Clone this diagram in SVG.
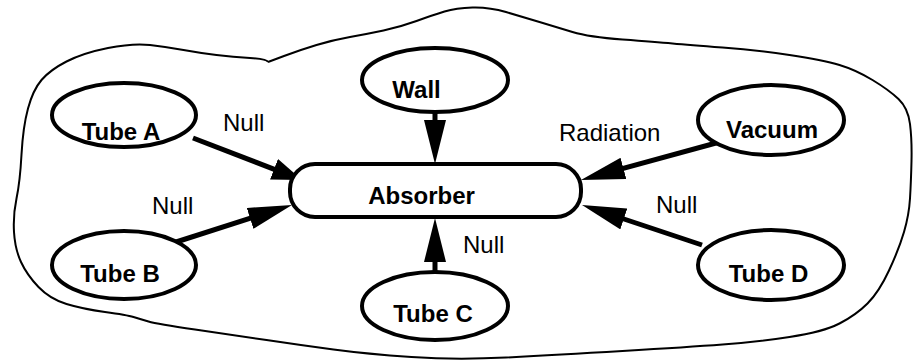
<svg xmlns="http://www.w3.org/2000/svg" width="913" height="363" viewBox="0 0 913 363">
<style>
.bg{fill:#fff}
.blob{fill:none;stroke:#000;stroke-width:2}
.node{fill:#fff;stroke:#000;stroke-width:4}
.nt{font-family:"Liberation Sans",Arial,sans-serif;font-size:24px;font-weight:bold;fill:#000;text-anchor:middle}
.lbl{font-family:"Liberation Sans",Arial,sans-serif;font-size:24px;fill:#000}
.edge{fill:none;stroke:#000;stroke-width:5}
</style>
<defs>
<marker id="ahL" viewBox="0 0 44 22" refX="22" refY="11" markerWidth="44" markerHeight="22" markerUnits="userSpaceOnUse" orient="auto"><path d="M0,0 L44,11 L0,22 z" fill="#000"/></marker>
<marker id="ahS" viewBox="0 0 30 22" refX="15" refY="11" markerWidth="30" markerHeight="22" markerUnits="userSpaceOnUse" orient="auto"><path d="M0,0 L30,11 L0,22 z" fill="#000"/></marker>
</defs>
<rect class="bg" x="0" y="0" width="913" height="363"/>
<path id="boundary" class="blob" d="M268,62 L284,56 Q300,50 316.5,45 Q333,40 350,37 Q367,34 383.5,30.5 Q400,27 416.5,21 Q433,15 444.5,11.5 Q456,8 472.5,7.5 Q489,7 506,12 Q523,17 539.5,22 Q556,27 572.5,32 Q589,37 622.5,39.5 Q656,42 672.5,43.5 Q689,45 722.5,47.5 Q756,50 789.5,55 Q823,60 839.5,65 Q856,70 872.5,80 Q889,90 898.5,99 Q908,108 910,124 Q912,140 911.5,161 Q911,182 910,198.5 Q909,215 904,232 Q899,249 889,270.5 Q879,292 867.5,303.5 Q856,315 839.5,323.5 Q823,332 789.5,337 Q756,342 722.5,344.5 Q689,347 622.5,351 Q556,355 506,357.5 Q456,360 411.5,357 Q367,354 333.5,349.5 Q300,345 266.5,340 Q233,335 195,329.5 Q157,324 148.5,321.5 Q140,319 133.5,317 Q127,315 105,312 Q83,309 66.5,304 Q50,299 38.5,287 Q27,275 21,262 Q15,249 14,232 Q13,215 16.5,198.5 Q20,182 21.5,154.5 Q23,127 28,108.5 Q33,90 41.5,80 Q50,70 66.5,61.5 Q83,53 108,48 Q133,43 150,45 Q167,47 183.5,50 Q200,53 216.5,55 Q233,57 250,58 Q267,59 268,62"/>
<g id="connectors">
<line class="edge" x1="193" y1="138" x2="288" y2="174.6" marker-end="url(#ahS)"/>
<line class="edge" x1="435" y1="112" x2="435" y2="142" marker-end="url(#ahL)"/>
<line class="edge" x1="727" y1="140" x2="602.2" y2="174.2" marker-end="url(#ahL)"/>
<line class="edge" x1="173" y1="243" x2="271" y2="211.7" marker-end="url(#ahL)"/>
<line class="edge" x1="435" y1="272" x2="435" y2="240" marker-end="url(#ahL)"/>
<line class="edge" x1="702" y1="245" x2="602.9" y2="212" marker-end="url(#ahL)"/>
<text class="lbl" x="223" y="131">Null</text>
<text class="lbl" x="559" y="141">Radiation</text>
<text class="lbl" x="152" y="214">Null</text>
<text class="lbl" x="463" y="253">Null</text>
<text class="lbl" x="656" y="213">Null</text>
</g>
<g id="absorber"><rect class="node" x="290" y="164" width="291" height="53" rx="25" ry="25"/><text class="nt" x="421.5" y="204">Absorber</text></g>
<g id="tubeA"><ellipse class="node" cx="124" cy="115" rx="72" ry="32"/><text class="nt" x="121" y="140">Tube A</text></g>
<g id="wall"><ellipse class="node" cx="435" cy="80" rx="73" ry="32"/><text class="nt" x="416.5" y="98">Wall</text></g>
<g id="vacuum"><ellipse class="node" cx="771" cy="120" rx="73" ry="35"/><text class="nt" x="772" y="138">Vacuum</text></g>
<g id="tubeB"><ellipse class="node" cx="124" cy="265" rx="72" ry="34"/><text class="nt" x="120" y="282">Tube B</text></g>
<g id="tubeC"><ellipse class="node" cx="435" cy="306" rx="73" ry="34"/><text class="nt" x="433" y="322">Tube C</text></g>
<g id="tubeD"><ellipse class="node" cx="771" cy="265" rx="73" ry="35"/><text class="nt" x="768.5" y="282">Tube D</text></g>
</svg>
